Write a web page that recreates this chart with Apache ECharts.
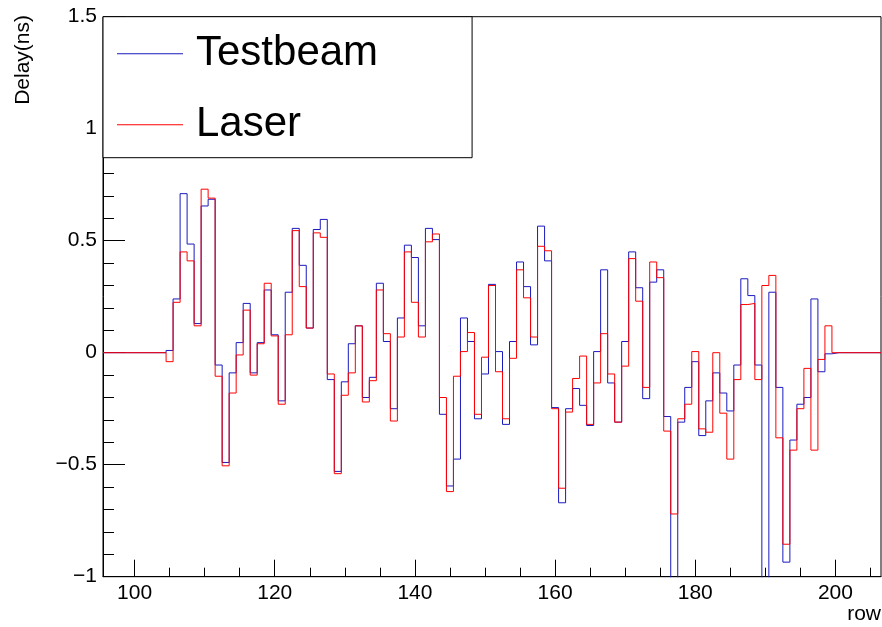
<!DOCTYPE html>
<html>
<head>
<meta charset="utf-8">
<script src="https://cdn.jsdelivr.net/npm/echarts@6/dist/echarts.min.js"></script>
<style>
  html, body { margin: 0; padding: 0; background: #fff; }
  #chart { width: 882px; height: 627px; }
</style>
</head>
<body>
<div id="chart"></div>
<script>
// Per-row delay histograms, one bin per row, rows 96 .. 206
const firstRow = 96;

const testbeam = [
  0, 0, 0, 0, 0, 0, 0, 0, 0,
  0.01, 0.24, 0.71, 0.485, 0.13, 0.655, 0.685, -0.055, -0.49, -0.09,
  0.045, 0.22, -0.09, 0.045, 0.28, 0.08, -0.215, 0.27, 0.555, 0.39,
  0.11, 0.55, 0.595, -0.12, -0.53, -0.13, 0.04, 0.12, -0.20, -0.11,
  0.31, 0.05, -0.25, 0.155, 0.48, 0.425, 0.12, 0.555, 0.505, -0.275,
  -0.595, -0.475, 0.155, 0.05, -0.295, -0.095, 0.305, 0.005, -0.32, 0.05,
  0.405, 0.295, 0.035, 0.565, 0.41, -0.245, -0.67, -0.25, -0.16, -0.235,
  -0.325, 0.005, 0.37, -0.135, -0.31, 0.05, 0.45, 0.29, -0.205, 0.315,
  0.37, -0.285, -1.2, -0.31, -0.155, -0.04, -0.37, -0.215, -0.09, -0.18,
  -0.26, -0.055, 0.33, 0.255, -0.055, -1.2, 0.27, -0.155, -0.935, -0.39,
  -0.23, -0.2, 0.24, -0.085, -0.005,
  0, 0, 0, 0, 0, 0, 0
];

const laser = [
  0, 0, 0, 0, 0, 0, 0, 0, 0,
  -0.04, 0.225, 0.45, 0.41, 0.12, 0.73, 0.69, -0.105, -0.505, -0.18,
  -0.01, 0.19, -0.10, 0.04, 0.31, 0.075, -0.23, 0.08, 0.545, 0.295,
  0.11, 0.535, 0.515, -0.095, -0.54, -0.19, -0.09, 0.12, -0.22, -0.125,
  0.28, 0.085, -0.305, 0.07, 0.45, 0.225, 0.07, 0.495, 0.53, -0.20,
  -0.62, -0.105, 0.005, 0.09, -0.275, -0.02, 0.30, -0.085, -0.295, -0.025,
  0.37, 0.245, 0.07, 0.475, 0.455, -0.25, -0.605, -0.265, -0.115, -0.015,
  -0.32, -0.135, 0.085, -0.095, -0.31, -0.06, 0.42, 0.23, -0.155, 0.405,
  0.335, -0.35, -0.72, -0.295, -0.23, 0.005, -0.34, -0.355, 0, -0.27,
  -0.475, -0.12, 0.215, 0.22, -0.12, 0.30, 0.345, -0.38, -0.855, -0.435,
  -0.25, -0.07, -0.435, -0.03, 0.12,
  0, 0, 0, 0, 0, 0, 0
];

const rowMajorTicks = [100, 120, 140, 160, 180, 200];
const rowMinorTicks = [100, 105, 110, 115, 120, 125, 130, 135, 140, 145, 150,
                       155, 160, 165, 170, 175, 180, 185, 190, 195, 200, 205];
const seriesNames = ['Testbeam', 'Laser'];
const seriesColors = ['#1a1abe', '#ff0000'];

const FONT = '"Liberation Sans", Arial, Helvetica, sans-serif';

// histogram outline: one point at each bin's lower edge, plus the last upper edge
function toSteps(values) {
  const pts = values.map((v, i) => [firstRow + i - 0.5, v]);
  pts.push([firstRow + values.length - 0.5, values[values.length - 1]]);
  return pts;
}

const xMin = firstRow - 0.5;
const xMax = firstRow + testbeam.length - 0.5;

const chart = echarts.init(document.getElementById('chart'), null, { renderer: 'canvas' });

chart.setOption({
  animation: false,
  backgroundColor: '#fff',
  grid: {
    left: 103, right: 1, top: 16.7, bottom: 50.3,
    show: true, borderColor: '#000', borderWidth: 1, backgroundColor: 'transparent'
  },
  xAxis: [
    {
      type: 'value', min: xMin, max: xMax, position: 'bottom',
      axisLine: { show: true, onZero: false, lineStyle: { color: '#000', width: 1 } },
      axisTick: { show: true, inside: true, length: 9, customValues: rowMinorTicks,
                  lineStyle: { color: '#000', width: 1 } },
      axisLabel: { show: true, customValues: rowMajorTicks, margin: 6,
                   fontSize: 21, fontFamily: FONT, color: '#000' },
      splitLine: { show: false }
    },
    {
      type: 'value', min: xMin, max: xMax, position: 'bottom', offset: 0,
      axisLine: { show: false, onZero: false },
      axisTick: { show: true, inside: true, length: 17, customValues: rowMajorTicks,
                  lineStyle: { color: '#000', width: 1 } },
      axisLabel: { show: false },
      splitLine: { show: false }
    }
  ],
  yAxis: {
    type: 'value', min: -1, max: 1.5, interval: 0.5,
    axisLine: { show: true, onZero: false, lineStyle: { color: '#000', width: 1 } },
    axisTick: { show: true, inside: true, length: 22, lineStyle: { color: '#000', width: 1 } },
    minorTick: { show: true, splitNumber: 5, length: 11, lineStyle: { color: '#000', width: 1 } },
    axisLabel: {
      margin: 6, fontSize: 21, fontFamily: FONT, color: '#000',
      formatter: v => (v < 0 ? '\u2212' + Math.abs(v) : String(v))
    },
    splitLine: { show: false }
  },
  legend: {
    data: seriesNames.map(n => ({ name: n, icon: 'rect' })),
    orient: 'vertical',
    left: 103, top: 16.7,
    padding: [16, 94, 12, 14],
    itemWidth: 66, itemHeight: 1, itemGap: 29,
    backgroundColor: '#fff', borderColor: '#000', borderWidth: 1, borderRadius: 0,
    textStyle: { fontSize: 42, fontFamily: FONT, color: '#000', padding: [0, 0, 0, 8] }
  },
  series: [
    {
      name: seriesNames[0], type: 'line', step: 'end', xAxisIndex: 0,
      data: toSteps(testbeam), symbol: 'none', clip: true,
      color: seriesColors[0], lineStyle: { color: seriesColors[0], width: 1 }
    },
    {
      name: seriesNames[1], type: 'line', step: 'end', xAxisIndex: 0,
      data: toSteps(laser), symbol: 'none', clip: true,
      color: seriesColors[1], lineStyle: { color: seriesColors[1], width: 1 }
    }
  ],
  graphic: [
    {
      type: 'text', x: 23, y: 15, rotation: Math.PI / 2,
      style: { text: 'Delay(ns)', font: '21px ' + FONT, fill: '#000',
               align: 'right', verticalAlign: 'middle' }
    },
    {
      type: 'text', x: 881, y: 614,
      style: { text: 'row', font: '21px ' + FONT, fill: '#000',
               align: 'right', verticalAlign: 'middle' }
    }
  ]
});
</script>
</body>
</html>
